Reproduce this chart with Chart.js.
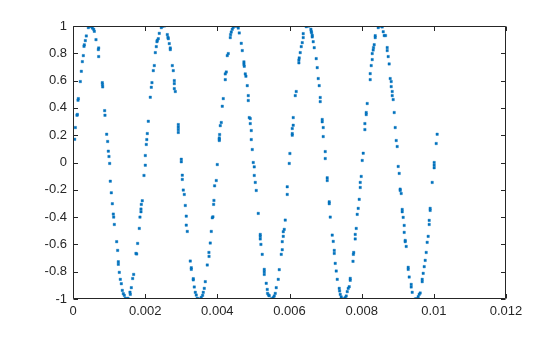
<!DOCTYPE html>
<html>
<head>
<meta charset="utf-8">
<script src="https://cdn.jsdelivr.net/npm/chart.js@4/dist/chart.umd.min.js"></script>
<style>
html,body{margin:0;padding:0;background:#ffffff;}
#c{display:block;}
</style>
</head>
<body>
<canvas id="c" width="560" height="337"></canvas>
<script>
// Sample times (s)
const sampleTimes = [
0.000046,0.000065,0.000111,0.00012,0.000139,0.000148,0.000203,0.000231,0.000259,0.000286,
0.000305,0.000314,0.000342,0.000369,0.000425,0.000471,0.000517,0.000535,0.000573,0.000591,
0.000637,0.000702,0.000711,0.000711,0.000812,0.000822,0.000817,0.000877,0.000886,0.000933,
0.00096,0.000979,0.000997,0.001016,0.001034,0.001062,0.00109,0.001117,0.001127,0.001145,
0.00121,0.001237,0.001256,0.001256,0.001283,0.001311,0.001339,0.001366,0.001394,0.001422,
0.00145,0.001487,0.001524,0.001579,0.001588,0.001616,0.001653,0.001681,0.001745,0.001764,
0.001791,0.001837,0.001856,
0.001884,0.001884,0.001893,0.00192,0.001967,0.002004,0.002004,0.002031,0.002045,0.002059,
0.002087,0.002142,0.00217,0.002188,0.002225,0.002253,0.002281,0.002308,0.002327,0.002336,
0.002364,0.002391,0.002447,0.002475,0.00253,0.002613,0.002632,0.002641,0.002668,0.002696,
0.002696,0.002752,0.002779,0.002807,0.002807,0.002807,0.002835,0.002918,0.002918,0.002918,
0.002918,0.003001,0.003001,0.003029,0.003029,0.003056,0.003084,0.003112,0.003139,0.003139,
0.003167,0.00325,0.003278,0.003278,0.003333,0.003333,0.003361,0.003389,0.003416,0.003444,
0.003499,0.003555,0.003592,0.00361,0.003638,0.003666,0.003721,0.003767,0.00377,0.003804,
0.003832,0.00386,0.003878,0.003897,0.003906,0.003924,
0.00397,0.003998,0.004054,0.004054,0.004054,0.004063,0.004081,0.004109,0.004137,0.004164,
0.00422,0.00422,0.004248,0.004275,0.004303,0.004358,0.004367,0.004386,0.004414,0.004441,
0.004478,0.004525,0.004561,0.00458,0.004608,0.004663,0.004691,0.004737,0.004737,0.004746,
0.004774,0.004792,0.004829,0.004857,0.004857,0.004884,0.004912,0.004912,0.00494,0.00494,
0.004968,0.004995,0.005023,0.005023,0.005051,0.005078,0.005134,0.005189,0.005189,0.005189,
0.005208,0.005244,0.0053,0.0053,0.0053,0.005355,0.005383,0.005392,0.00542,0.005438,
0.005494,0.005521,0.005549,0.005577,0.005605,0.005632,0.005688,0.005716,0.005771,0.005799,
0.005799,0.005827,0.005827,0.005854,0.005882,0.005937,0.005937,0.005993,0.006011,
0.006076,0.006076,0.006076,0.006103,0.006103,0.006159,0.006186,0.00626,0.00626,0.006269,
0.006297,0.006325,0.006353,0.00638,0.00638,0.006463,0.006491,0.006537,0.006593,0.006602,
0.006611,0.00663,0.00663,0.006657,0.006685,0.00674,0.006768,0.006796,0.006823,0.006851,
0.006851,0.006906,0.006906,0.006934,0.006934,0.00699,0.00699,0.007045,0.007045,0.007101,
0.007101,0.007129,0.007184,0.007212,0.00724,0.00724,0.007267,0.007295,0.007323,0.007378,
0.007388,0.007406,0.007433,0.007461,0.007516,0.007544,0.007572,0.0076,0.007627,0.007655,
0.007683,0.007683,0.00776,0.00777,0.007779,0.007821,0.007821,0.007849,0.007876,0.007904,
0.007932,0.00796,0.00796,0.007987,0.008015,0.008043,0.008089,0.008089,
0.008126,0.008126,0.008153,0.008236,0.008236,0.008264,0.008292,0.008292,0.008319,0.008328,
0.008347,0.008375,0.008375,0.008458,0.008486,0.008532,0.008569,0.008597,0.008624,0.008661,
0.008707,0.008707,0.008735,0.008762,0.00879,0.008818,0.008818,0.008846,0.008846,0.008873,
0.008901,0.008929,0.008957,0.008984,0.009012,0.00904,0.009067,0.009067,0.009095,0.009123,
0.009123,0.00915,0.009178,0.009178,0.009206,0.009206,0.009234,0.009289,0.009289,0.009317,
0.009372,0.009372,0.0094,0.009483,0.009511,0.009539,0.009566,0.009594,0.009622,0.009677,
0.009677,0.009705,0.009733,0.00976,0.009788,0.009815,0.009843,0.009871,0.009871,0.009898,
0.009898,0.009954,0.010009,0.010009,0.010009,0.010065,0.010092
];
// Amplitudes (same order as sampleTimes)
const sampleValues = [
0.17,0.256,0.346,0.352,0.456,0.468,0.593,0.668,0.739,0.783,
0.851,0.862,0.893,0.927,0.988,0.998,0.998,0.985,0.976,0.961,
0.9,0.827,0.839,0.776,0.585,0.554,0.57,0.38,0.346,0.207,
0.154,0.083,0.044,-0.007,-0.137,-0.222,-0.302,-0.378,-0.4,-0.454,
-0.58,-0.644,-0.727,-0.746,-0.805,-0.856,-0.888,-0.937,-0.961,-0.973,
-0.995,-1.0,-0.995,-0.95,-0.966,-0.917,-0.85,-0.82,-0.666,-0.67,
-0.593,-0.483,-0.4,
-0.361,-0.341,-0.307,-0.28,-0.095,-0.02,0.051,0.132,0.168,0.212,
0.302,0.478,0.551,0.585,0.673,0.71,0.805,0.849,0.885,0.895,
0.907,0.946,0.988,0.998,1.0,0.937,0.917,0.907,0.871,0.839,
0.827,0.71,0.673,0.6,0.578,0.541,0.52,0.278,0.259,0.241,
0.22,0.024,0.005,-0.093,-0.124,-0.202,-0.234,-0.315,-0.393,-0.459,
-0.505,-0.722,-0.771,-0.783,-0.851,-0.86,-0.912,-0.951,-0.971,-0.995,
-1.0,-0.988,-0.973,-0.951,-0.922,-0.873,-0.751,-0.659,-0.688,-0.59,
-0.505,-0.405,-0.398,-0.307,-0.278,-0.171,
-0.132,-0.015,0.161,0.17,0.18,0.205,0.27,0.293,0.412,0.468,
0.607,0.649,0.663,0.783,0.798,0.915,0.937,0.956,0.976,0.99,
1.0,1.0,1.0,0.985,0.949,0.873,0.82,0.737,0.72,0.705,
0.649,0.632,0.563,0.49,0.454,0.329,0.322,0.285,0.234,0.168,
0.095,0.0,-0.032,-0.095,-0.146,-0.205,-0.373,-0.527,-0.541,-0.56,
-0.6,-0.673,-0.783,-0.8,-0.82,-0.885,-0.93,-0.959,-0.971,-0.976,
-1.0,-1.0,-0.99,-0.978,-0.959,-0.917,-0.856,-0.785,-0.673,-0.639,
-0.58,-0.541,-0.507,-0.49,-0.422,-0.234,-0.178,-0.007,0.066,
0.2,0.212,0.249,0.273,0.329,0.49,0.52,0.73,0.75,0.766,
0.805,0.849,0.878,0.915,0.944,0.995,1.0,1.0,0.976,0.961,
0.951,0.932,0.92,0.885,0.841,0.761,0.695,0.615,0.563,0.476,
0.446,0.315,0.298,0.256,0.19,0.08,0.029,-0.112,-0.132,-0.288,
-0.302,-0.4,-0.532,-0.578,-0.644,-0.666,-0.739,-0.795,-0.856,-0.922,
-0.941,-0.966,-0.985,-1.0,-1.0,-0.99,-0.978,-0.946,-0.922,-0.91,
-0.849,-0.863,-0.724,-0.673,-0.659,-0.56,-0.527,-0.483,-0.38,-0.336,
-0.27,-0.183,-0.146,-0.102,0.015,0.068,0.241,0.285,
0.351,0.366,0.432,0.607,0.651,0.71,0.754,0.798,0.824,0.842,
0.863,0.915,0.929,0.988,1.0,1.0,0.993,0.958,0.93,0.93,
0.842,0.82,0.776,0.722,0.615,0.593,0.556,0.52,0.49,0.461,
0.366,0.256,0.161,0.117,-0.029,-0.08,-0.195,-0.205,-0.227,-0.344,
-0.361,-0.402,-0.461,-0.512,-0.571,-0.58,-0.615,-0.768,-0.783,-0.839,
-0.893,-0.912,-0.951,-1.0,-1.0,-1.0,-0.983,-0.966,-0.956,-0.856,
-0.873,-0.812,-0.763,-0.717,-0.659,-0.585,-0.541,-0.454,-0.424,-0.351,
-0.336,-0.146,0.0,-0.02,-0.039,0.139,0.207
];

const xTickValues = [0, 0.002, 0.004, 0.006, 0.008, 0.01, 0.012];
const xTickLabels = ['0', '0.002', '0.004', '0.006', '0.008', '0.01', '0.012'];
const yTickValues = [-1, -0.8, -0.6, -0.4, -0.2, 0, 0.2, 0.4, 0.6, 0.8, 1];
const yTickLabels = ['-1', '-0.8', '-0.6', '-0.4', '-0.2', '0', '0.2', '0.4', '0.6', '0.8', '1'];

const points = sampleTimes.map((t, i) => ({ x: t, y: sampleValues[i] }));

const axisColor = '#262626';
const fontSpec = { family: '"Liberation Sans", Arial, Helvetica, sans-serif', size: 13 };

const framePlugin = {
  id: 'matlabFrame',
  afterDatasetsDraw(chart) {
    const { ctx, chartArea: a, scales } = chart;
    const xs = scales.x, ys = scales.y;
    const L = Math.round(a.left) + 0.5, R = Math.round(a.right) - 0.5;
    const T = Math.round(a.top) + 0.5, B = Math.round(a.bottom) - 0.5;
    const tl = 4.5;
    ctx.save();
    ctx.strokeStyle = axisColor;
    ctx.lineWidth = 1;
    ctx.beginPath();
    ctx.rect(L, T, R - L, B - T);
    xTickValues.forEach(v => {
      const px = Math.round(xs.getPixelForValue(v)) + 0.5;
      ctx.moveTo(px, B); ctx.lineTo(px, B - tl);
      ctx.moveTo(px, T); ctx.lineTo(px, T + tl);
    });
    yTickValues.forEach(v => {
      const py = Math.round(ys.getPixelForValue(v)) + 0.5;
      ctx.moveTo(L, py); ctx.lineTo(L + tl, py);
      ctx.moveTo(R, py); ctx.lineTo(R - tl, py);
    });
    ctx.stroke();
    ctx.restore();
  }
};

new Chart(document.getElementById('c'), {
  type: 'scatter',
  data: {
    datasets: [{
      data: points,
      pointStyle: 'rect',
      pointRadius: 1.7,
      pointBorderWidth: 0.4,
      backgroundColor: '#0072BD',
      borderColor: '#0072BD'
    }]
  },
  options: {
    responsive: false,
    animation: false,
    devicePixelRatio: 1,
    layout: { padding: { left: 0, top: 26, right: 54, bottom: 0 } },
    plugins: { legend: { display: false }, tooltip: { enabled: false } },
    scales: {
      x: {
        type: 'linear',
        min: 0, max: 0.012,
        grid: { display: false, drawTicks: false, tickLength: 0 },
        border: { display: false },
        afterBuildTicks(scale) { scale.ticks = xTickValues.map(v => ({ value: v })); },
        afterFit(scale) { scale.height = 38; },
        ticks: {
          color: axisColor, font: fontSpec, padding: 5, maxRotation: 0, autoSkip: false,
          callback: (v, i) => xTickLabels[i]
        }
      },
      y: {
        type: 'linear',
        min: -1, max: 1,
        grid: { display: false, drawTicks: false, tickLength: 0 },
        border: { display: false },
        afterBuildTicks(scale) { scale.ticks = yTickValues.map(v => ({ value: v })); },
        afterFit(scale) { scale.width = 73; },
        ticks: {
          color: axisColor, font: fontSpec, padding: 6, autoSkip: false,
          callback: (v, i) => yTickLabels[i]
        }
      }
    }
  },
  plugins: [framePlugin]
});
</script>
</body>
</html>
